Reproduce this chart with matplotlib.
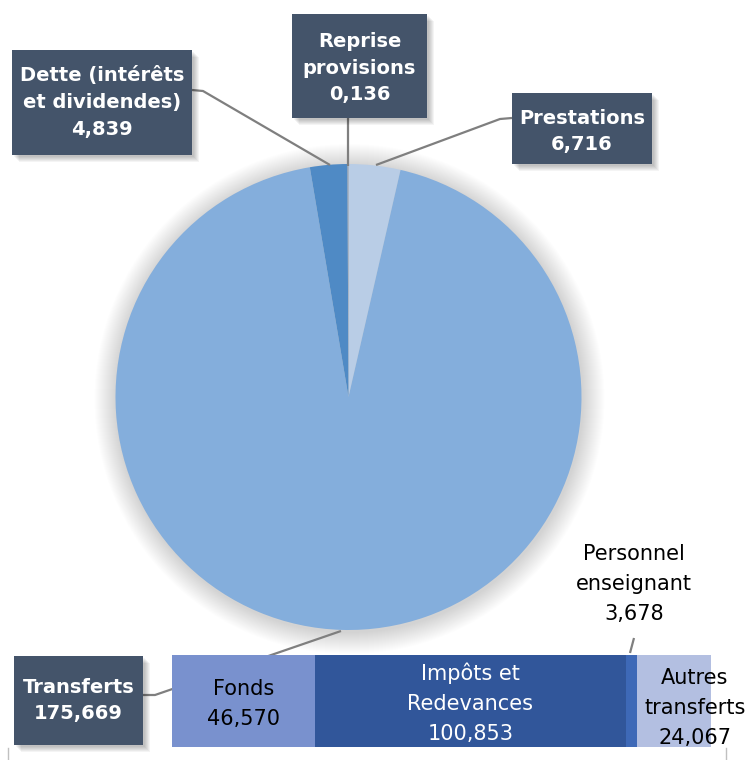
import matplotlib
matplotlib.use("Agg")
import matplotlib.pyplot as plt
from matplotlib.patches import Rectangle, Circle
import matplotlib.transforms as mtransforms
import numpy as np

# ---- data ----
pie_labels = ["Prestations", "Transferts", "Dette (intérêts\net dividendes)", "Reprise\nprovisions"]
pie_values = [6.716, 175.669, 4.839, 0.136]
pie_value_text = ["6,716", "175,669", "4,839", "0,136"]
pie_colors = ["#B9CDE6", "#84AEDC", "#4F8AC5", "#8A9BB0"]

bar_labels = ["Fonds", "Impôts et\nRedevances", "Personnel\nenseignant", "Autres\ntransferts"]
bar_values = [46.570, 100.853, 3.678, 24.067]
bar_value_text = ["46,570", "100,853", "3,678", "24,067"]
bar_colors = ["#7991CE", "#31569A", "#3E69B7", "#B3BFE1"]
bar_text_colors = ["black", "white", "black", "black"]

W, H = 754, 760
plt.rcParams["font.family"] = ["DejaVu Sans"]

fig = plt.figure(figsize=(W / 100, H / 100), dpi=100)
ax = fig.add_axes([0, 0, 1, 1])

def Y(p):
    return H - p

# pie soft shadow
cx, cy, R = 348.5, Y(397), 233
for i in range(22):
    ax.add_patch(Circle((cx + 1, cy - 2), R + 22 - i, color="#000000", alpha=0.0065, lw=0, zorder=1))

ax.pie(pie_values, colors=pie_colors, startangle=90, counterclock=False,
       center=(cx, cy), radius=R, wedgeprops=dict(linewidth=0), frame=True)
ax.set_xlim(0, W)
ax.set_ylim(0, H)
ax.axis("off")

# leader lines
lc = "#7F7F7F"
def line(pts, z=3):
    xs = [p[0] for p in pts]
    ys = [Y(p[1]) for p in pts]
    ax.plot(xs, ys, color=lc, lw=1.6, zorder=z, solid_capstyle="butt")

line([(192, 90), (203, 91), (330, 165)])
line([(347.5, 118), (347.5, 166)])
line([(512, 118), (500, 119), (376, 165)])
line([(143, 695), (155, 695), (341, 631)], z=2)
line([(630, 653), (634, 638)])

# label boxes
def box(x0, y0, x1, y1, text, dy=0):
    for k in range(6):
        ax.add_patch(Rectangle((x0 + 2 + k * 0.9, Y(y1) - 2 - k * 0.9), x1 - x0, y1 - y0,
                               fc="#000000", alpha=0.045, lw=0, zorder=4))
    ax.add_patch(Rectangle((x0, Y(y1)), x1 - x0, y1 - y0, fc="#44546A", lw=0, zorder=5))
    ax.text((x0 + x1) / 2, Y((y0 + y1) / 2 + dy), text, color="white", fontsize=14,
            fontweight="bold", ha="center", va="center", linespacing=1.5, zorder=6)

box(12, 50, 192, 155, pie_labels[2] + "\n" + pie_value_text[2])
box(292, 14, 427, 118, pie_labels[3] + "\n" + pie_value_text[3], dy=2)
box(512, 93, 652, 164, pie_labels[0] + "\n" + pie_value_text[0], dy=3)
box(14, 656, 143, 745, pie_labels[1] + "\n" + pie_value_text[1])

# stacked bar
bx0, bx1, by0, by1 = 172, 711, 655, 747
bax = fig.add_axes([bx0 / W, (H - by1) / H, (bx1 - bx0) / W, (by1 - by0) / H])
bax.set_xlim(0, sum(bar_values))
bax.set_ylim(-0.5, 0.5)
bax.axis("off")
bax.set_zorder(3)
lefts = np.concatenate([[0], np.cumsum(bar_values)[:-1]])
bax.barh(0, bar_values, left=lefts, color=bar_colors, height=1.0, linewidth=0)
offsets = {0: (0, -3), 1: (0, -2), 3: (21, -7)}
for i, (lab, val) in enumerate(zip(bar_labels, bar_value_text)):
    if i == 2:
        continue
    c = lefts[i] + bar_values[i] / 2
    ox, oy = offsets[i]
    tr = mtransforms.offset_copy(bax.transData, fig=fig, x=ox, y=oy, units="dots")
    bax.text(c, 0, lab + "\n" + val, color=bar_text_colors[i], fontsize=15,
             ha="center", va="center", linespacing=1.64, clip_on=False, transform=tr)
# Personnel enseignant label above the bar
ax.text(634, Y(584), bar_labels[2] + "\n" + bar_value_text[2], color="black", fontsize=15,
        ha="center", va="center", linespacing=1.64)

# faint bottom bracket
ax.plot([8, 8], [Y(748), Y(760)], color="#C0C0C0", lw=1)
ax.plot([726, 726], [Y(748), Y(760)], color="#C0C0C0", lw=1)

fig.savefig("out.png", dpi=100)
